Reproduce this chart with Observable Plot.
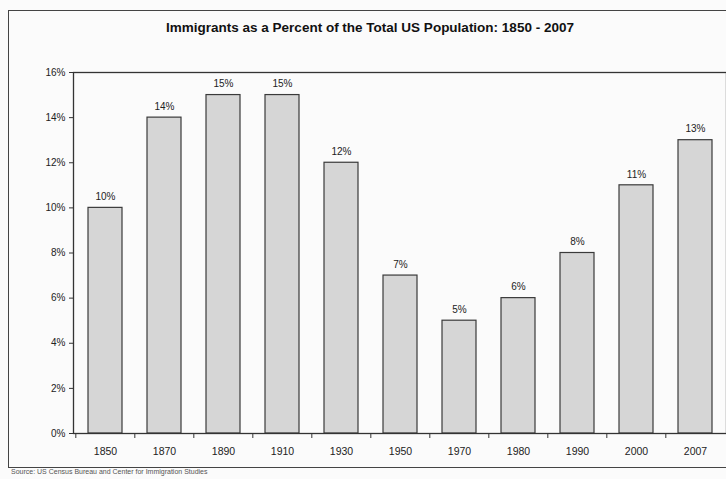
<!DOCTYPE html>
<html>
<head>
<meta charset="utf-8">
<script src="https://cdn.jsdelivr.net/npm/d3@7"></script>
<script src="https://cdn.jsdelivr.net/npm/@observablehq/plot@0.6"></script>
<style>
  html, body { margin: 0; padding: 0; background: #fbfbfb; overflow: hidden; }
  #wrap { position: relative; width: 726px; height: 479px; font-family: Arial, "Liberation Sans", sans-serif; }
  #outer { position: absolute; left: 8px; top: 10px; width: 740px; height: 458px; border: 1.5px solid #444; box-sizing: border-box; }
  #title { position: absolute; left: 0; width: 740px; top: 20px; text-align: center; font-weight: bold; font-size: 13.5px; color: #111; }
  #source { position: absolute; left: 11px; top: 468px; font-size: 7px; color: #555; }
  #chart { position: absolute; left: 0; top: 0; }
</style>
</head>
<body>
<div id="wrap">
  <div id="outer"></div>
  <div id="title">Immigrants as a Percent of the Total US Population: 1850 - 2007</div>
  <div id="chart"></div>
  <div id="source">Source: US Census Bureau and Center for Immigration Studies</div>
</div>
<script>
const years = ["1850","1870","1890","1910","1930","1950","1970","1980","1990","2000","2007"];
const percents = [0.10, 0.14, 0.15, 0.15, 0.12, 0.07, 0.05, 0.06, 0.08, 0.11, 0.13];
const yTicks = [0, 0.02, 0.04, 0.06, 0.08, 0.10, 0.12, 0.14, 0.16];

const data = years.map((y, i) => ({year: y, value: percents[i]}));
const fmt = d3.format(".0%");

const bandWidth = (726 - 73) / years.length;

const chart = Plot.plot({
  width: 726,
  height: 479,
  marginLeft: 73,
  marginRight: 0,
  marginTop: 72,
  marginBottom: 46,
  style: {background: "transparent", fontFamily: "Arial, 'Liberation Sans', sans-serif", fontSize: "10px", color: "#222"},
  x: {domain: years, paddingInner: 0.43, paddingOuter: 0.215, align: 0.5, label: null},
  y: {domain: [0, 0.16], label: null},
  marks: [
    Plot.barY(data, {x: "year", y: "value", fill: "#d6d6d6", stroke: "#3a3a3a", strokeWidth: 1.2}),
    Plot.text(data, {x: "year", y: "value", text: d => fmt(d.value), dy: -11, fontSize: 10, fill: "#222"}),
    Plot.axisY({ticks: yTicks, tickFormat: fmt, tickSize: 4, tickPadding: 4, fontSize: 10, stroke: "#333", fill: "#222", label: null}),
    Plot.axisX({tickSize: 0, tickPadding: 14, fontSize: 10.5, fill: "#222", label: null}),
    Plot.axisX({tickSize: 5, tickFormat: () => "", dx: -bandWidth / 2, stroke: "#333", label: null}),
    Plot.frame({stroke: "#333", strokeWidth: 1.3})
  ]
});
document.getElementById("chart").appendChild(chart);
</script>
</body>
</html>
